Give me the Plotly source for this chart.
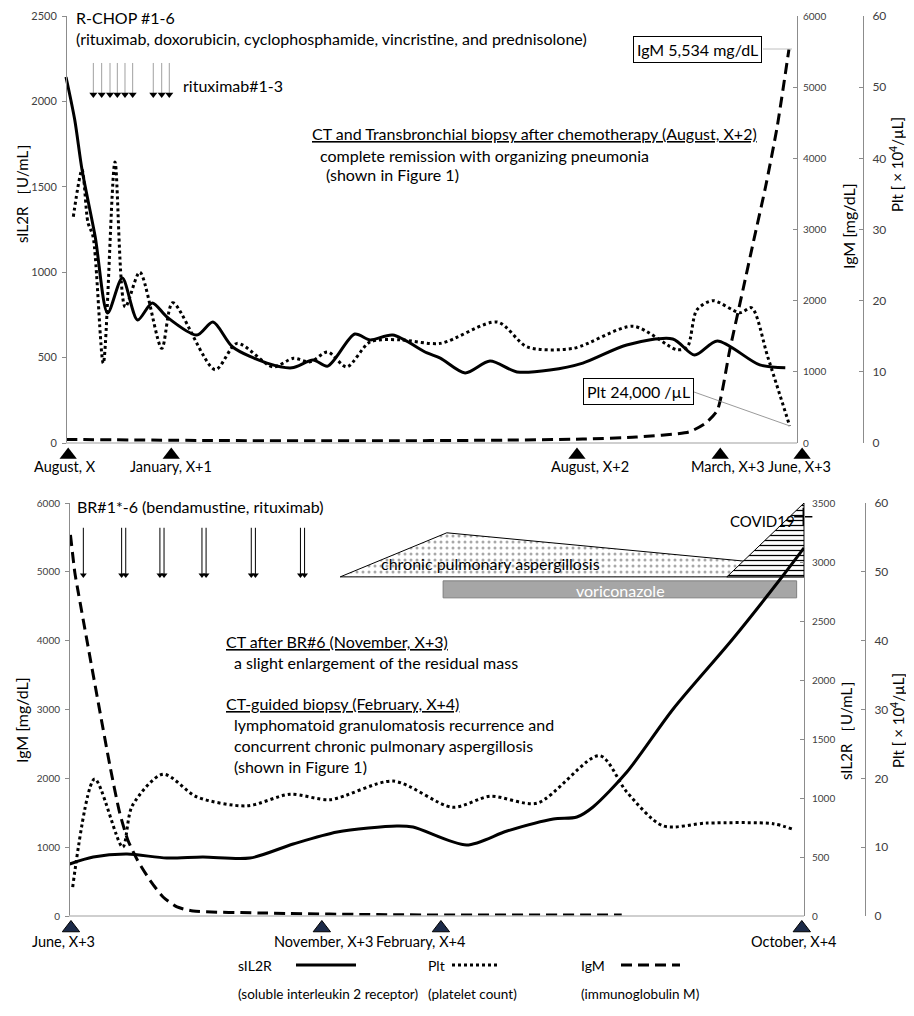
import plotly.graph_objects as go

# page body has an 8px margin: the figure is drawn starting at page pixel (8, 8)
OFF = 8
FW, FH = 906, 1008
FONT = "Lato"

# ---------------- TOP PANEL DATA (x = timeline position 0-100) ----------------
top_sil2r_x = [0, 1.2, 2.2, 4.0, 5.7, 7.7, 9.8, 11.8, 13.8, 17.9, 20.1, 22.8, 27.5, 30.9,
               33.8, 35.8, 39.5, 41.6, 44.7, 49.4, 51.2, 54.6, 58.0, 61.7, 66.2, 70.7, 76.7,
               83.0, 86.0, 89.1, 94.9, 98.4]
top_sil2r_y = [2143, 1891, 1598, 1206, 761, 966, 720, 820, 738, 632, 708, 562, 468, 440,
               486, 450, 638, 603, 632, 527, 497, 410, 480, 416, 427, 468, 574,
               609, 515, 597, 457, 440]

top_plt_x = [1.0, 2.2, 3.0, 3.7, 5.1, 6.7, 8.1, 10.1, 13.1, 14.6, 20.4, 23.4, 28.3, 31.1,
             33.4, 35.8, 38.4, 41.6, 45.7, 51.2, 59.0, 63.1, 69.4, 77.6, 83.6, 85.0, 86.3,
             88.5, 92.2, 93.8, 96.0, 99.0]
top_plt_y = [31.8, 38.4, 31, 29, 11.2, 39.5, 19.1, 24.0, 13.3, 19.7, 10.3, 14.0, 10.7, 11.9,
             11.4, 12.8, 10.7, 14.2, 14.5, 14.0, 17.0, 13.5, 13.3, 16.4, 13.1, 13.5, 18.7,
             20.0, 18.3, 19.0, 12.1, 2.4]

top_igm_x = [0, 20, 40, 60, 70.7, 78.0, 85.2, 87.5, 89.1, 90.8, 92.6, 94.0, 95.7, 97.3, 98.9]
top_igm_y = [50, 35, 30, 40, 55, 84, 155, 280, 460, 1307, 2150, 2810, 3600, 4450, 5534]

top_dates = ["August, X", "January, X+1", "August, X+2", "March, X+3", "June, X+3"]
top_date_mark_x = [0.3, 14.4, 69.9, 89.5, 100.7]
top_date_label_x = [-0.1, 14.4, 71.7, 90.6, 100.4]

rituximab_x = [3.74, 4.88, 6.02, 7.02, 8.07, 9.12, 11.94, 13.09, 14.13]

# ---------------- BOTTOM PANEL DATA ----------------
bot_igm_x = [0.2, 0.8, 1.2, 5.6, 6.9, 8.0, 9.3, 11.0, 12.8, 14.7, 16.9, 26.0, 44.1, 75.2]
bot_igm_y = [5538, 4985, 4738, 2166, 1497, 1105, 814, 523, 276, 131, 73, 44, 18, 15]

bot_sil2r_x = [0.1, 3.3, 7.9, 13.3, 18.2, 24.6, 30.5, 36.5, 44.6, 46.8, 54.1, 59.6, 65.9,
               69.1, 71.3, 75.9, 82.2, 90.3, 97.1, 100]
bot_sil2r_y = [441, 500, 525, 491, 500, 491, 610, 712, 763, 754, 602, 720, 822,
               839, 924, 1220, 1754, 2347, 2881, 3119]

bot_plt_x = [0.5, 3.5, 7.3, 8.6, 12.8, 17.4, 24.2, 30.1, 35.5, 44.1, 52.2, 57.3, 63.7,
             72.2, 75.9, 80.8, 86.8, 95.8, 98.5]
bot_plt_y = [4.2, 19.9, 10.0, 16.0, 20.6, 17.3, 16.0, 17.7, 16.9, 19.6, 15.8, 17.4, 16.4,
             23.3, 18.0, 13.1, 13.5, 13.4, 12.6]

bot_dates = ["June, X+3", "November, X+3", "February, X+4", "October, X+4"]
bot_date_mark_x = [0.27, 34.4, 50.6, 99.7]
bot_date_label_x = [-0.8, 34.6, 47.8, 98.6]

br_single_x = [1.95]
br_double_x = [7.44, 12.65, 18.37, 25.08, 31.77]

asp_x = [36.9, 51.4, 100, 100, 36.9]
asp_y = [4927, 5567, 5073, 4927, 4927]
covid_x = [89.5, 100, 100, 89.5]
covid_y = [4927, 6000, 4927, 4927]
vori_x = [50.9, 99.0]
vori_y = [4622, 4869]
covid_mark = (99.9, 5800)

DASH = "11px,6px"

# ---------------- geometry (page pixels) ----------------
TOP_X0, TOP_UNIT = 66, 7.31     # page px of x=0 and px per unit, top panel
BOT_X0, BOT_UNIT = 69, 7.35
XDOM = (30, 848)                # wide hidden x-domain so labels/markers near edges are in range


def px2paper(px, py):
    return (px - OFF) / FW, 1 - (py - OFF) / FH


def xfrac(px):
    return (px - OFF) / FW


def yfrac(py):
    return 1 - (py - OFF) / FH


def ydom(py_bottom, py_top):
    return [yfrac(py_bottom), yfrac(py_top)]


fig = go.Figure()

# ---- top curves ----
fig.add_trace(go.Scatter(x=top_sil2r_x, y=top_sil2r_y, mode="lines", xaxis="x", yaxis="y",
                         line=dict(color="black", width=3, shape="spline", smoothing=0.8)))
fig.add_trace(go.Scatter(x=top_plt_x, y=top_plt_y, mode="lines", xaxis="x", yaxis="y3",
                         line=dict(color="black", width=3, dash="dot", shape="spline", smoothing=0.8)))
fig.add_trace(go.Scatter(x=top_igm_x, y=top_igm_y, mode="lines", xaxis="x", yaxis="y2",
                         line=dict(color="black", width=3, dash=DASH, shape="spline", smoothing=0.6)))

# rituximab arrows (top)
sx, sy = [], []
for xv in rituximab_x:
    sx += [xv, xv, None]
    sy += [2225, 2035, None]
fig.add_trace(go.Scatter(x=sx, y=sy, mode="lines", xaxis="x", yaxis="y",
                         line=dict(color="#a0a0a0", width=1)))
fig.add_trace(go.Scatter(x=rituximab_x, y=[2040] * len(rituximab_x), mode="markers", xaxis="x", yaxis="y",
                         marker=dict(symbol="triangle-down", size=7, color="black")))

# top date triangles (own hidden y-axis strip)
fig.add_trace(go.Scatter(x=top_date_mark_x, y=[0.5] * len(top_date_mark_x), mode="markers",
                         xaxis="x", yaxis="y7", cliponaxis=False,
                         marker=dict(symbol="triangle-up", size=15, color="black")))

# ---- bottom overlays ----
fig.add_trace(go.Scatter(x=asp_x, y=asp_y, mode="lines", xaxis="x2", yaxis="y4", fill="toself",
                         fillcolor="white",
                         fillpattern=dict(shape=".", fgcolor="#a8a8a8", bgcolor="white", size=6, solidity=0.2),
                         line=dict(color="black", width=1)))
fig.add_trace(go.Scatter(x=covid_x, y=covid_y, mode="lines", xaxis="x2", yaxis="y4", fill="toself",
                         fillcolor="white",
                         fillpattern=dict(shape="-", fgcolor="black", bgcolor="white", size=5, solidity=0.25),
                         line=dict(color="black", width=1)))
fig.add_trace(go.Scatter(x=[covid_mark[0]], y=[covid_mark[1]], mode="markers", xaxis="x2", yaxis="y4",
                         cliponaxis=False,
                         marker=dict(symbol="cross-thin", size=13, line=dict(color="black", width=1.5))))

# BR arrows
bx, by, hx = [], [], []
for xv in br_single_x:
    bx += [xv, xv, None]
    by += [5640, 4960, None]
    hx.append(xv)
for xv in br_double_x:
    for d in (-0.28, 0.28):
        bx += [xv + d, xv + d, None]
        by += [5640, 4960, None]
        hx.append(xv + d)
fig.add_trace(go.Scatter(x=bx, y=by, mode="lines", xaxis="x2", yaxis="y4",
                         line=dict(color="black", width=1)))
fig.add_trace(go.Scatter(x=hx, y=[4955] * len(hx), mode="markers", xaxis="x2", yaxis="y4",
                         marker=dict(symbol="triangle-down", size=6, color="black")))

# ---- bottom curves ----
fig.add_trace(go.Scatter(x=bot_igm_x, y=bot_igm_y, mode="lines", xaxis="x2", yaxis="y4",
                         line=dict(color="black", width=3, dash=DASH, shape="spline", smoothing=0.6)))
fig.add_trace(go.Scatter(x=bot_plt_x, y=bot_plt_y, mode="lines", xaxis="x2", yaxis="y6",
                         line=dict(color="black", width=3, dash="dot", shape="spline", smoothing=0.8)))
fig.add_trace(go.Scatter(x=bot_sil2r_x, y=bot_sil2r_y, mode="lines", xaxis="x2", yaxis="y5",
                         line=dict(color="black", width=3, shape="spline", smoothing=0.8)))

fig.add_trace(go.Scatter(x=bot_date_mark_x, y=[0.5] * len(bot_date_mark_x), mode="markers",
                         xaxis="x2", yaxis="y8", cliponaxis=False,
                         marker=dict(symbol="triangle-up", size=15, color="#1c2a48",
                                     line=dict(color="black", width=1))))

# ---------------- annotations ----------------
ann = []


def text(t, px, py, size=16, xanchor="left", color="black", **kw):
    x, y = px2paper(px, py)
    d = dict(x=x, y=y, xref="paper", yref="paper", text=t, showarrow=False,
             xanchor=xanchor, yanchor="middle", font=dict(family=FONT, size=size, color=color))
    d.update(kw)
    ann.append(d)


text("R-CHOP #1-6", 74, 18)
text("(rituximab, doxorubicin, cyclophosphamide, vincristine, and prednisolone)", 74, 38)
text("rituximab#1-3", 181, 86)
text("<u>CT and Transbronchial biopsy after chemotherapy (August, X+2)</u>", 310, 133)
text("complete remission with organizing pneumonia", 318, 155)
text("(shown in Figure 1)", 324, 175)
text("IgM 5,534 mg/dL", 697, 50, xanchor="center", bordercolor="black", borderwidth=1,
     borderpad=3, bgcolor="white")
text("Plt 24,000 /µL", 638, 391, xanchor="center", bordercolor="black", borderwidth=1,
     borderpad=3, bgcolor="white")

for lab, xv in zip(top_dates, top_date_label_x):
    ann.append(dict(x=xv, y=yfrac(467), xref="x", yref="paper", text=lab, showarrow=False,
                    xanchor="center", yanchor="middle", font=dict(family=FONT, size=14.5, color="black")))
for lab, xv in zip(bot_dates, bot_date_label_x):
    ann.append(dict(x=xv, y=yfrac(941), xref="x2", yref="paper", text=lab, showarrow=False,
                    xanchor="center", yanchor="middle", font=dict(family=FONT, size=14.5, color="black")))

text("BR#1*-6 (bendamustine, rituximab)", 75, 506)
text("chronic pulmonary aspergillosis", 490, 563, xanchor="center")
text("voriconazole", 620, 590, xanchor="center", color="white")
text("COVID19", 762, 521, size=15, xanchor="center")
text("<u>CT after BR#6 (November, X+3)</u>", 224, 641)
text("a slight enlargement of the residual mass", 232, 662)
text("<u>CT-guided biopsy (February, X+4)</u>", 224, 703)
text("lymphomatoid granulomatosis recurrence and", 232, 724)
text("concurrent chronic pulmonary aspergillosis", 232, 745)
text("(shown in Figure 1)", 232, 766)

# axis titles
text("sIL2R ［U/mL］", 22, 190, size=15, xanchor="center", textangle=-90)
text("IgM [mg/dL]", 848, 226, size=16, xanchor="center", textangle=-90)
text("Plt [ × 10<sup>4</sup>/µL]", 896, 165, size=15, xanchor="center", textangle=-90)
text("IgM [mg/dL]", 21, 720, size=16, xanchor="center", textangle=-90)
text("sIL2R ［U/mL］", 846, 727, size=15, xanchor="center", textangle=-90)
text("Plt [ × 10<sup>4</sup>/µL]", 897, 721, size=15, xanchor="center", textangle=-90)

# legend
text("sIL2R", 236, 965, size=14)
text("(soluble interleukin 2 receptor)", 236, 994, size=13.5)
text("Plt", 426, 965, size=14)
text("(platelet count)", 426, 994, size=13.5)
text("IgM", 579, 965, size=14)
text("(immunoglobulin M)", 579, 994, size=13.5)

shapes = []


def pline(x0, y0, x1, y1, color="black", width=1, dash="solid"):
    a0, b0 = px2paper(x0, y0)
    a1, b1 = px2paper(x1, y1)
    shapes.append(dict(type="line", xref="paper", yref="paper", x0=a0, y0=b0, x1=a1, y1=b1,
                       line=dict(color=color, width=width, dash=dash)))


pline(296, 965, 356, 965, width=3)
pline(452, 965, 500, 965, width=3, dash="dot")
pline(621, 965, 680, 965, width=3, dash=DASH)
pline(763, 49, 792, 49, color="#c0c0c0", width=1)
pline(694, 392, 790, 426, color="#808080", width=0.8)

# x-axis baselines
shapes.append(dict(type="line", xref="x", yref="paper", x0=0, x1=100, y0=yfrac(443), y1=yfrac(443),
                   line=dict(color="#bfbfbf", width=1.5)))
shapes.append(dict(type="line", xref="x2", yref="paper", x0=0, x1=100, y0=yfrac(916), y1=yfrac(916),
                   line=dict(color="#bfbfbf", width=1.5)))

shapes.append(dict(type="rect", xref="x2", yref="y4", x0=vori_x[0], x1=vori_x[1],
                   y0=vori_y[0], y1=vori_y[1], fillcolor="#a6a6a6",
                   line=dict(color="#7f7f7f", width=1), layer="below"))


def yax(**kw):
    base = dict(showgrid=False, zeroline=False, linecolor="#8c8c8c", linewidth=1, automargin=False,
                tickcolor="#8c8c8c", ticklen=4, showline=True,
                tickfont=dict(family=FONT, size=11, color="#404040"))
    base.update(kw)
    return base


def xax(x0px, unit):
    return dict(domain=[xfrac(XDOM[0]), xfrac(XDOM[1])],
                range=[(XDOM[0] - x0px) / unit, (XDOM[1] - x0px) / unit],
                visible=False, showgrid=False, zeroline=False, automargin=False)


small = dict(family=FONT, size=10, color="#404040")
big = dict(family=FONT, size=12, color="#404040")

fig.update_layout(
    template="none",
    width=FW, height=FH, autosize=False,
    margin=dict(l=0, r=0, t=0, b=0, pad=0),
    paper_bgcolor="white", plot_bgcolor="rgba(0,0,0,0)",
    showlegend=False,
    font=dict(family=FONT, color="black"),
    annotations=ann, shapes=shapes,
    xaxis=dict(anchor="y", **xax(TOP_X0, TOP_UNIT)),
    yaxis=yax(domain=ydom(443, 16), range=[0, 2500], dtick=500, anchor="free",
              position=xfrac(TOP_X0), side="left", ticks="outside", ticklabelstandoff=3),
    yaxis2=yax(overlaying="y", side="right", anchor="free", position=xfrac(797), range=[0, 6000],
               dtick=1000, ticks="inside", ticklabelstandoff=3, tickfont=small),
    yaxis3=yax(overlaying="y", side="right", anchor="free", position=xfrac(863), range=[0, 60],
               dtick=10, ticks="inside", ticklabelstandoff=6, tickfont=big),
    yaxis7=dict(domain=ydom(463, 447), range=[0, 1], anchor="x", visible=False, automargin=False),
    xaxis2=dict(anchor="y4", **xax(BOT_X0, BOT_UNIT)),
    yaxis4=yax(domain=ydom(916, 503), range=[0, 6000], dtick=1000, anchor="free",
               position=xfrac(BOT_X0), side="left", ticks="outside", ticklabelstandoff=3,
               tickfont=small),
    yaxis5=yax(overlaying="y4", side="right", anchor="free", position=xfrac(804), range=[0, 3500],
               dtick=500, ticks="inside", ticklabelstandoff=5, tickfont=small),
    yaxis6=yax(overlaying="y4", side="right", anchor="free", position=xfrac(865), range=[0, 60],
               dtick=10, ticks="inside", ticklabelstandoff=6, tickfont=big),
    yaxis8=dict(domain=ydom(936, 920), range=[0, 1], anchor="x2", visible=False, automargin=False),
)

fig.write_html("out.html")
